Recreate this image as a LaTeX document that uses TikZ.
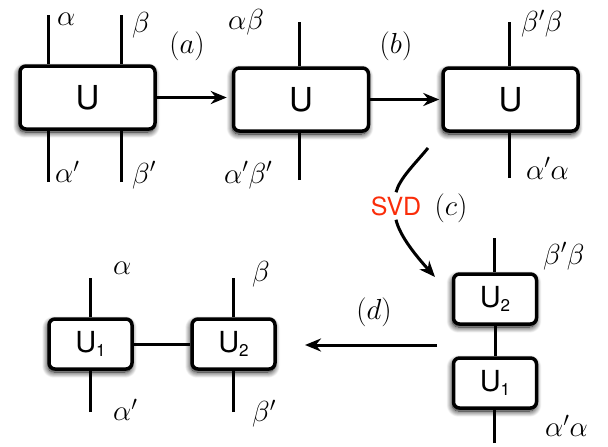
\RequirePackage{fix-cm}
\documentclass[tikz,border=0pt]{standalone}
\usepackage{fontspec}
\setsansfont{TeX Gyre Heros}
\usetikzlibrary{arrows.meta,shadows.blur}
\definecolor{svdred}{RGB}{250,45,10}
\newcommand{\usub}[1]{\raisebox{-0.12em}{\fontsize{17}{20}\selectfont #1}}
\begin{document}
\begin{tikzpicture}[x=1pt,y=-1pt,
  box/.style={draw,line width=3.5pt,rounded corners=6pt,fill=white,inner sep=0pt,
    blur shadow={shadow xshift=-1pt,shadow yshift=-3pt,shadow blur radius=6pt,shadow opacity=100,shadow blur steps=12},
    font=\sffamily\fontsize{33}{38}\selectfont},
  bigbox/.style={box,minimum width=135pt,minimum height=63pt},
  smallbox/.style={box,minimum width=83pt,minimum height=50pt,font=\sffamily\fontsize{29}{34}\selectfont},
  leg/.style={line width=3pt},
  lab/.style={anchor=west,inner sep=0pt,font=\fontsize{29}{34}\selectfont},
  tag/.style={anchor=center,inner sep=0pt,font=\fontsize{29}{34}\selectfont},
  arr/.style={line width=3pt,-{Stealth[length=16pt,width=13pt]}},
]
\useasboundingbox (0,0) rectangle (608,447);
% top row boxes
\node[bigbox] (U1) at (87.5,97.5) {U};
\node[bigbox] (U2) at (301,99.5) {U};
\node[bigbox] (U3) at (510.5,99.5) {U};
% legs box 1
\coordinate (a1t) at (48,15);
\coordinate (b1t) at (121,15);
\coordinate (a1b) at (48,182);
\coordinate (b1b) at (121,182);
\draw[leg] (a1t) -- (a1t |- U1.north);
\draw[leg] (b1t) -- (b1t |- U1.north);
\draw[leg] (a1b) -- (a1b |- U1.south);
\draw[leg] (b1b) -- (b1b |- U1.south);
% legs box 2
\coordinate (a2t) at (299,22);
\coordinate (a2b) at (299,180);
\draw[leg] (a2t) -- (a2t |- U2.north);
\draw[leg] (a2b) -- (a2b |- U2.south);
% legs box 3
\coordinate (a3t) at (509,22);
\coordinate (a3b) at (509,178);
\draw[leg] (a3t) -- (a3t |- U3.north);
\draw[leg] (a3b) -- (a3b |- U3.south);
% labels top row
\node[lab] (l1a) at (57,19.5) {$\alpha$};
\node[lab] (l1b) at (132,25) {$\beta$};
\node[lab] (l1ap) at (55,172) {$\alpha'$};
\node[lab] (l1bp) at (132,175) {$\beta'$};
\node[lab] (l2t) at (228,22.5) {$\alpha\beta$};
\node[lab] (l2b) at (224,175) {$\alpha'\beta'$};
\node[lab] (l3t) at (521,23.5) {$\beta'\beta$};
\node[lab] (l3b) at (526,168.5) {$\alpha'\alpha$};
\node[tag] (ta) at (187,46.5) {$(a)$};
\node[tag] (tb) at (396,46.5) {$(b)$};
% arrows a, b
\draw[arr,shorten >=5pt] (U1.east) -- (U1.east -| U2.west);
\draw[arr,shorten >=2pt] (U2.east) -- (U2.east -| U3.west);
% SVD curve
\node[font=\sffamily\fontsize{25}{30}\selectfont,text=svdred,inner sep=4pt] (svd) at (396,206) {SVD};
\node[tag] (tc) at (451,208) {$(c)$};
\coordinate (c0) at (428,148);
\coordinate (c1) at (435,277);
\draw[leg] (c0) .. controls (414,165) and (400,178) .. (svd.north);
\draw[arr] (svd.south) .. controls (400,237) and (418,258) .. (c1);
% right column
\node[smallbox] (R2) at (495,299) {U\usub{2}};
\node[smallbox] (R1) at (495,383) {U\usub{1}};
\coordinate (rt) at (494,238);
\coordinate (rb) at (494,443);
\draw[leg] (rt) -- (rt |- R2.north);
\draw[leg] (R2.south) -- (R1.north);
\draw[leg] (rb) -- (rb |- R1.south);
\node[lab] (lrt) at (543,256) {$\beta'\beta$};
\node[lab] (lrb) at (545,426) {$\alpha'\alpha$};
% arrow d
\coordinate (d0) at (437,345);
\coordinate (d1) at (305,345);
\draw[arr] (d0) -- (d1);
\node[tag] (td) at (374,312) {$(d)$};
% bottom left
\node[smallbox] (L1) at (90.5,344) {U\usub{1}};
\node[smallbox] (L2) at (233.5,344) {U\usub{2}};
\draw[leg] (L1.east) -- (L2.west);
\coordinate (p1t) at (90,278);
\coordinate (p1b) at (90,412);
\coordinate (p2t) at (233,278);
\coordinate (p2b) at (233,412);
\draw[leg] (p1t) -- (p1t |- L1.north);
\draw[leg] (p1b) -- (p1b |- L1.south);
\draw[leg] (p2t) -- (p2t |- L2.north);
\draw[leg] (p2b) -- (p2b |- L2.south);
\node[lab] (lla) at (113,268.5) {$\alpha$};
\node[lab] (llap) at (113,410) {$\alpha'$};
\node[lab] (llb) at (252,274) {$\beta$};
\node[lab] (llbp) at (252,413.5) {$\beta'$};
\end{tikzpicture}
\end{document}
